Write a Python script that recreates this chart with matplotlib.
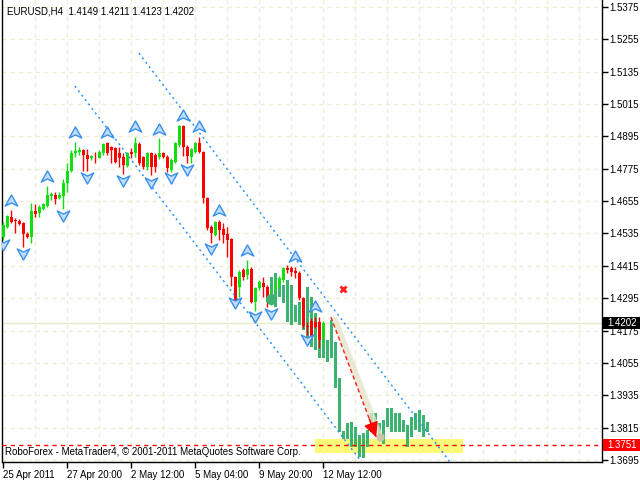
import matplotlib
matplotlib.use('Agg')
import matplotlib.pyplot as plt
from matplotlib.path import Path
from matplotlib.patches import Rectangle
import matplotlib.transforms as mtrans
import numpy as np

plt.rcParams['font.family'] = ['Liberation Sans', 'DejaVu Sans']

# ---------------- data ----------------
symbol_text = "EURUSD,H4  1.4149 1.4211 1.4123 1.4202"
footer_text = "RoboForex - MetaTrader4, \u00a9 2001-2011 MetaQuotes Software Corp."

opens = [1.4522, 1.4559, 1.4597, 1.4585, 1.4582, 1.4574, 1.4534, 1.4522, 1.4619, 1.4611,
         1.4626, 1.4637, 1.4675, 1.4678, 1.4667, 1.4675, 1.4723, 1.4767, 1.4834, 1.4838,
         1.4845, 1.4826, 1.4815, 1.4819, 1.4815, 1.4834, 1.4871, 1.4856, 1.4852, 1.4834,
         1.4819, 1.4786, 1.4838, 1.4834, 1.4867, 1.4819, 1.4782, 1.4834, 1.4826, 1.4819,
         1.4834, 1.4819, 1.4771, 1.4800, 1.4864, 1.4934, 1.4856, 1.4819, 1.4838, 1.4871,
         1.4838, 1.4667, 1.4559, 1.4530, 1.4578, 1.4552, 1.4534, 1.4515, 1.4374, 1.4337,
         1.4400, 1.4381, 1.4403, 1.4281, 1.4333, 1.4352, 1.4337, 1.4281, 1.4326, 1.4344,
         1.4363, 1.4407, 1.4407, 1.4396, 1.4389, 1.4296, 1.4192, 1.4210, 1.4207, 1.4207,
         1.4149]
highs = [1.4578, 1.4604, 1.4622, 1.4593, 1.4589, 1.4578, 1.4541, 1.4648, 1.4645, 1.4641,
         1.4648, 1.4712, 1.4690, 1.4690, 1.4690, 1.4738, 1.4797, 1.4845, 1.4875, 1.4856,
         1.4849, 1.4849, 1.4826, 1.4838, 1.4845, 1.4871, 1.4875, 1.4860, 1.4856, 1.4856,
         1.4834, 1.4838, 1.4852, 1.4893, 1.4875, 1.4823, 1.4838, 1.4838, 1.4834, 1.4890,
         1.4838, 1.4826, 1.4815, 1.4875, 1.4938, 1.4938, 1.4864, 1.4852, 1.4875, 1.4893,
         1.4841, 1.4671, 1.4567, 1.4582, 1.4585, 1.4574, 1.4559, 1.4519, 1.4377, 1.4400,
         1.4407, 1.4437, 1.4411, 1.4337, 1.4363, 1.4374, 1.4344, 1.4326, 1.4363, 1.4377,
         1.4411, 1.4418, 1.4414, 1.4411, 1.4396, 1.4300, 1.4207, 1.4221, 1.4225, 1.4225,
         1.4211]
lows = [1.4511, 1.4556, 1.4574, 1.4537, 1.4567, 1.4485, 1.4519, 1.4500, 1.4597, 1.4597,
        1.4622, 1.4634, 1.4659, 1.4645, 1.4664, 1.4626, 1.4690, 1.4763, 1.4819, 1.4826,
        1.4767, 1.4767, 1.4808, 1.4797, 1.4815, 1.4826, 1.4826, 1.4797, 1.4797, 1.4782,
        1.4756, 1.4782, 1.4815, 1.4819, 1.4789, 1.4775, 1.4771, 1.4752, 1.4763, 1.4812,
        1.4815, 1.4763, 1.4763, 1.4797, 1.4856, 1.4823, 1.4797, 1.4797, 1.4834, 1.4834,
        1.4648, 1.4548, 1.4500, 1.4526, 1.4511, 1.4500, 1.4448, 1.4340, 1.4281, 1.4300,
        1.4363, 1.4366, 1.4277, 1.4248, 1.4326, 1.4300, 1.4262, 1.4270, 1.4318, 1.4337,
        1.4355, 1.4389, 1.4377, 1.4370, 1.4288, 1.4184, 1.4158, 1.4147, 1.4184, 1.4110,
        1.4123]
closes = [1.4567, 1.4600, 1.4578, 1.4582, 1.4571, 1.4534, 1.4522, 1.4619, 1.4608, 1.4634,
          1.4645, 1.4678, 1.4682, 1.4664, 1.4678, 1.4723, 1.4767, 1.4834, 1.4841, 1.4845,
          1.4826, 1.4812, 1.4823, 1.4817, 1.4838, 1.4867, 1.4834, 1.4845, 1.4800, 1.4815,
          1.4789, 1.4834, 1.4830, 1.4871, 1.4797, 1.4782, 1.4834, 1.4782, 1.4782, 1.4834,
          1.4819, 1.4778, 1.4808, 1.4871, 1.4934, 1.4856, 1.4823, 1.4849, 1.4871, 1.4838,
          1.4667, 1.4556, 1.4537, 1.4578, 1.4548, 1.4530, 1.4511, 1.4374, 1.4288, 1.4392,
          1.4374, 1.4403, 1.4281, 1.4333, 1.4355, 1.4337, 1.4281, 1.4307, 1.4344, 1.4370,
          1.4407, 1.4400, 1.4392, 1.4389, 1.4296, 1.4192, 1.4188, 1.4151, 1.4188, 1.4140,
          1.4202]

# projected (indicator) bars, starting at bar 67
proj_start = 67
proj_high = [1.4374, 1.4389, 1.4344, 1.4344, 1.4363, 1.4344, 1.4270, 1.4281, 1.4296, 1.4337,
             1.4300, 1.4240, 1.4188, 1.4170, 1.4140, 1.4214, 1.4133, 1.3999, 1.3802, 1.3832,
             1.3836, 1.3817, 1.3788, 1.3795, 1.3806, 1.3869, 1.3869, 1.3832, 1.3843, 1.3888,
             1.3888, 1.3869, 1.3869, 1.3843, 1.3825, 1.3854, 1.3869, 1.3880, 1.3862, 1.3836]
proj_low = [1.4288, 1.4262, 1.4300, 1.4277, 1.4207, 1.4196, 1.4207, 1.4196, 1.4177, 1.4140,
            1.4114, 1.4103, 1.4073, 1.4073, 1.4058, 1.4073, 1.3962, 1.3799, 1.3773, 1.3773,
            1.3743, 1.3743, 1.3706, 1.3702, 1.3743, 1.3799, 1.3795, 1.3780, 1.3754, 1.3817,
            1.3799, 1.3799, 1.3799, 1.3799, 1.3743, 1.3780, 1.3806, 1.3799, 1.3780, 1.3799]

frac_up_idx = [2, 11, 18, 26, 33, 39, 45, 49, 54, 61, 73, 78]
frac_up_price = [1.4659, 1.4748, 1.4911, 1.4911, 1.4934, 1.4923, 1.4974, 1.4934, 1.4622,
                 1.4474, 1.4452, 1.4266]
frac_dn_idx = [0, 5, 15, 21, 30, 37, 42, 46, 52, 58, 63, 67, 76]
frac_dn_price = [1.4492, 1.4459, 1.4600, 1.4741, 1.4730, 1.4723, 1.4741, 1.4771, 1.4477,
                 1.4277, 1.4225, 1.4236, 1.4140]

upper_channel_x = [33.9, 111.7]
upper_channel_y = [1.5204, 1.3687]
lower_channel_x = [17.9, 89.2]
lower_channel_y = [1.5082, 1.3695]

forecast_x = [81.9, 93.2]
forecast_y = [1.4225, 1.3780]
highlight_x = [82.9, 94.2]
highlight_y = [1.4214, 1.3780]

cross_point = (84.9, 1.4329)
dot_point = (66.9, 1.4292)

zone_x = (77.9, 114.9)
zone_y = (1.3721, 1.3773)

current_price = 1.4202
target_level = 1.3751

time_tick_idx = [0, 16, 32, 48, 64, 80]
time_tick_labels = ["25 Apr 2011", "27 Apr 20:00", "2 May 12:00", "5 May 04:00",
                    "9 May 20:00", "12 May 12:00"]
price_ticks = [1.3695, 1.3815, 1.3935, 1.4055, 1.4175, 1.4295, 1.4415, 1.4535,
               1.4655, 1.4775, 1.4895, 1.5015, 1.5135, 1.5255, 1.5375]

# ---------------- figure ----------------
W, H = 640, 480
fig = plt.figure(figsize=(6.4, 4.8), dpi=100)
fig.patch.set_facecolor('white')
ax_l, ax_r, ax_t, ax_b = 2, 602, 0, 462
ax = fig.add_axes([ax_l / W, (H - ax_b) / H, (ax_r - ax_l) / W, (ax_b - ax_t) / H])
ax.set_facecolor('white')
ax.set_xlim(-0.325, 149.675)
ax.set_ylim(1.36874, 1.5401)

grid_col = '#EFEFD2'
for g in range(8, 150, 8):
    ax.axvline(g, color=grid_col, lw=1, ls=(0, (3, 3)), zorder=0)
for p in price_ticks:
    ax.axhline(p, color=grid_col, lw=1, ls=(0, (3, 3)), zorder=0)

# zone
ax.add_patch(Rectangle((zone_x[0], zone_y[0]), zone_x[1] - zone_x[0], zone_y[1] - zone_y[0],
                       facecolor='#FAFA78', edgecolor='none', zorder=1))

# current price line
ax.axhline(current_price, color='#EAEAC8', lw=1, zorder=1)

# projected bars
px = np.arange(proj_start, proj_start + len(proj_high))
ph = np.array(proj_high); pl = np.array(proj_low)
ax.bar(px, ph - pl, bottom=pl, width=0.6, color='#3CB371', linewidth=0, zorder=2)

# candles
o = np.array(opens); h = np.array(highs); l = np.array(lows); c = np.array(closes)
xi = np.arange(len(o))
up = c >= o
col = np.where(up, '#10E010', '#FF0000')
ax.vlines(xi, l, h, colors=col, lw=1, zorder=3)
body = np.maximum(np.abs(c - o), 0.00025)
ax.bar(xi, body, bottom=np.minimum(o, c), width=0.75, color=col, linewidth=0, zorder=3)

# channels
chan_col = '#1E90FF'
ax.plot(upper_channel_x, upper_channel_y, color=chan_col, lw=1, ls=(0, (1.5, 2.5)), zorder=4)
ax.plot(lower_channel_x, lower_channel_y, color=chan_col, lw=1, ls=(0, (1.5, 2.5)), zorder=4)

# fractal arrows
up_path = Path([(0, 0.8), (0.9, -0.8), (0, -0.35), (-0.9, -0.8), (0, 0.8)],
               [Path.MOVETO, Path.LINETO, Path.LINETO, Path.LINETO, Path.CLOSEPOLY])
dn_path = Path([(0, -0.8), (0.9, 0.8), (0, 0.35), (-0.9, 0.8), (0, -0.8)],
               [Path.MOVETO, Path.LINETO, Path.LINETO, Path.LINETO, Path.CLOSEPOLY])
ax.plot(frac_up_idx, frac_up_price, ls='none', marker=up_path, ms=9, mfc='#BFDDFF',
        mec='#3A8FEA', mew=1, zorder=5)
ax.plot(frac_dn_idx, frac_dn_price, ls='none', marker=dn_path, ms=9, mfc='#BFDDFF',
        mec='#3A8FEA', mew=1, zorder=5)

# forecast arrow
ax.plot(highlight_x, highlight_y, color='#E4E4CC', lw=4.5, alpha=0.8, solid_capstyle='round', zorder=5)
ax.plot([highlight_x[1]], [highlight_y[1]], marker='o', ms=5, color='#C8C8A8', zorder=5)
ax.plot(forecast_x, forecast_y, color='#FF2020', lw=1, ls=(0, (3, 2)), zorder=6)
dx = forecast_x[1] - forecast_x[0]; dy = forecast_y[1] - forecast_y[0]
ax.annotate('', xy=(forecast_x[1], forecast_y[1]),
            xytext=(forecast_x[1] - dx * 0.15, forecast_y[1] - dy * 0.15),
            arrowprops=dict(arrowstyle='-|>,head_length=0.9,head_width=0.45', color='#FF0000',
                            lw=1, shrinkA=0, shrinkB=0), zorder=6)

ax.plot([cross_point[0]], [cross_point[1]], marker='x', ms=5, mew=2, color='#FF2020', zorder=6)
ax.plot([dot_point[0]], [dot_point[1]], marker='o', ms=7, color='#3CB371', zorder=4)

# target level
ax.axhline(target_level, color='#FF0000', lw=1, ls=(0, (3, 3)), zorder=6)

# axes
for s in ['top']:
    ax.spines[s].set_visible(False)
for s in ['left', 'right', 'bottom']:
    ax.spines[s].set_color('black')
    ax.spines[s].set_linewidth(1)
ax.yaxis.tick_right()
ax.set_yticks(price_ticks)
ax.set_yticklabels(['%.4f' % p for p in price_ticks])
ax.tick_params(axis='y', direction='out', length=4, width=1, labelsize=7, pad=1, colors='black')
ax.set_xticks(time_tick_idx)
ax.set_xticklabels(time_tick_labels)
for lab in ax.get_xticklabels():
    lab.set_ha('left')
ax.tick_params(axis='x', direction='out', length=4, width=1, labelsize=7, pad=2, colors='black')

ax.text(5 / 600, 1 - 12 / 462, symbol_text, transform=ax.transAxes, fontsize=7, va='center',
        ha='left', color='black', zorder=10)
ax.text(3 / 600, 10 / 462, footer_text, transform=ax.transAxes, fontsize=7, va='center',
        ha='left', color='black', zorder=10)

# price tags on the right
fig.canvas.draw()
def tag(price, bg):
    ydisp = ax.transData.transform((0, price))[1]
    yf = ydisp / (H)
    fig.add_artist(Rectangle((603 / W, yf - 6 / H), 37 / W, 12 / H, transform=fig.transFigure,
                             facecolor=bg, edgecolor='none', zorder=20))
    fig.text(607 / W, yf, '%.4f' % price, color='white', fontsize=7, va='center', ha='left',
             zorder=21)
tag(current_price, 'black')
tag(target_level, '#FF0000')

fig.savefig('out.png', dpi=100)
